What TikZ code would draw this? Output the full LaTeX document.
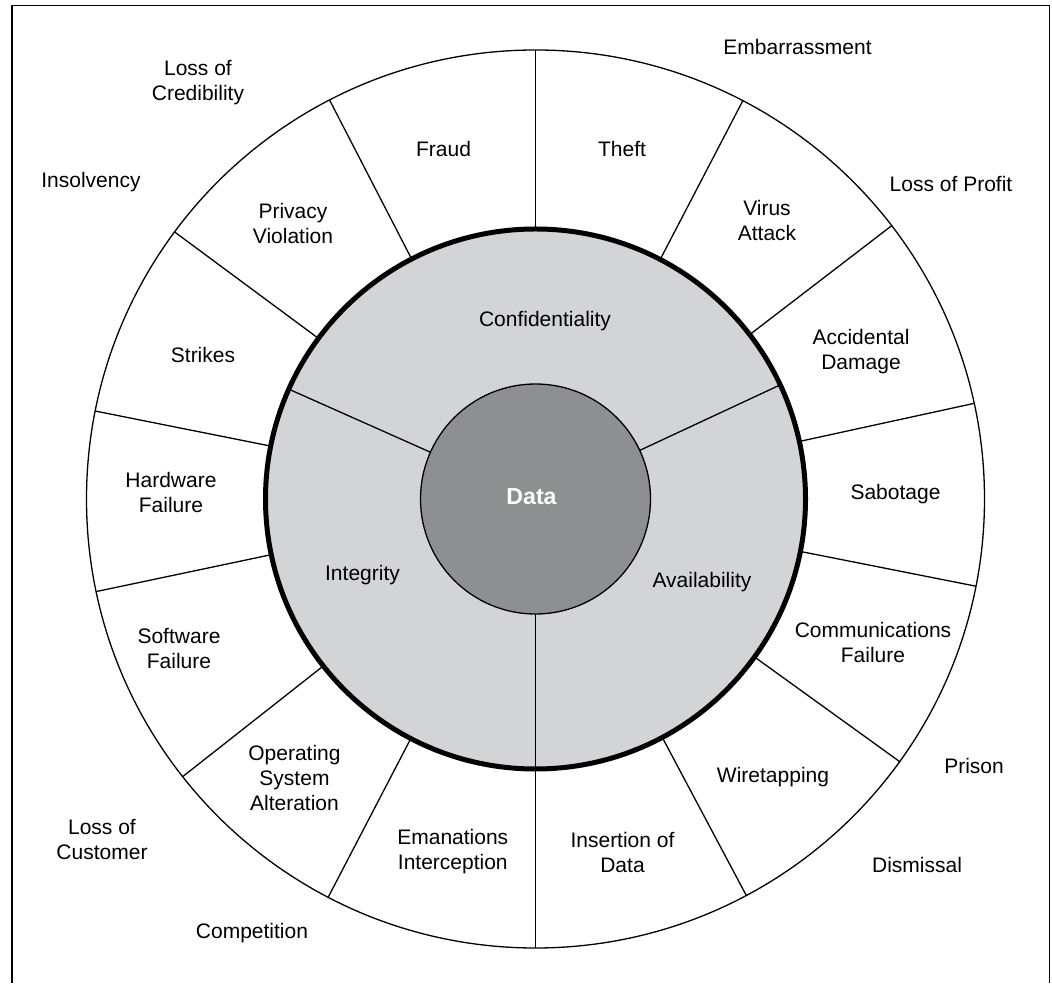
\documentclass[tikz,border=0pt]{standalone}
\usepackage{fontspec}
\setmainfont{Liberation Sans}
\usepackage{xcolor}
\usepackage{tikz}
\usetikzlibrary{shapes,positioning}
\definecolor{ringgray}{RGB}{211,212,214}
\definecolor{datagray}{RGB}{142,143,145}
\tikzset{lbl/.style={align=center,inner sep=0pt,font=\fontsize{10.5}{12.5}\selectfont}}
\tikzset{dat/.style={text=white,inner sep=0pt,font=\fontsize{11.6}{14}\selectfont\bfseries}}

\begin{document}
\begin{tikzpicture}[x=0.5pt,y=0.5pt,line width=0.65pt]
    \useasboundingbox (-535.5,-484) rectangle (516.5,499);
    \draw (-523.5,-484) -- (-523.5,493.5) -- (514,493.5) -- (514,-484);

    \draw (0,0) circle (449);
    \fill[ringgray] (0,0) circle (270);
    \foreach \a in {90,62.5,37.5,12.3,-11.2,-35.8,-62,-90,242.5,218.2,191.9,168.7,143.5,117.3}
        \draw (\a:270) -- (\a:449);
    \foreach \a in {25,156,270}
        \draw (\a:115) -- (\a:270);
    \filldraw[fill=datagray] (0,0) circle (115);
    \draw[line width=2.5pt] (0,0) circle (270);

    \node[dat] (data)at (-4,2) {Data};
    \node[lbl] (conf)at (9.5,178) {Confidentiality};
    \node[lbl] (integ)at (-173,-76) {Integrity};
    \node[lbl] (avail)at (166.5,-83) {Availability};

    \node[lbl] (fraud)at (-92,350) {Fraud};
    \node[lbl] (theft)at (86.5,350) {Theft};
    \node[lbl] (virus)at (231.5,278) {Virus\\Attack};
    \node[lbl] (accid)at (325.5,147) {Accidental\\Damage};
    \node[lbl] (sabot)at (360,5) {Sabotage};
    \node[lbl] (comm)at (337.5,-143) {Communications\\Failure};
    \node[lbl] (wire)at (237.5,-278) {Wiretapping};
    \node[lbl] (insert)at (87,-353) {Insertion of\\Data};
    \node[lbl] (eman)at (-82.7,-353) {Emanations\\Interception};
    \node[lbl] (os)at (-241,-279) {Operating\\System\\Alteration};
    \node[lbl] (soft)at (-356.5,-150) {Software\\Failure};
    \node[lbl] (hard)at (-364.5,7) {Hardware\\Failure};
    \node[lbl] (strik)at (-332.5,144) {Strikes};
    \node[lbl] (priv)at (-242.5,275) {Privacy\\Violation};

    \node[lbl] (embar)at (262,452) {Embarrassment};
    \node[lbl] (profit)at (415.5,315) {Loss of Profit};
    \node[lbl] (prison)at (438.5,-267) {Prison};
    \node[lbl] (dismis)at (381.5,-366) {Dismissal};
    \node[lbl] (compet)at (-283.5,-434.5) {Competition};
    \node[lbl] (custom)at (-433.5,-340) {Loss of\\Customer};
    \node[lbl] (insolv)at (-444.5,317) {Insolvency};
    \node[lbl] (cred)at (-337.5,416) {Loss of\\Credibility};
\end{tikzpicture}
\end{document}
